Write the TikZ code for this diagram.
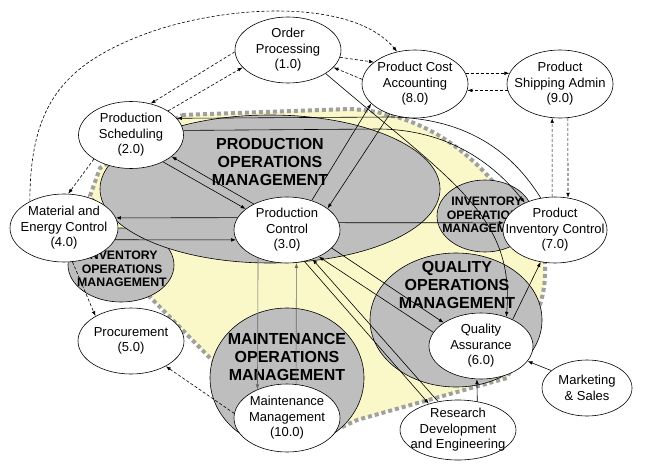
\documentclass[tikz,border=0pt]{standalone}
\usepackage{fontspec}
\setmainfont{Liberation Sans}
\usetikzlibrary{shapes.geometric,arrows.meta}
\pgfdeclarelayer{bg}
\pgfdeclarelayer{mid}
\pgfsetlayers{bg,mid,main}
\definecolor{yel}{RGB}{250,248,200}
\definecolor{grayfill}{RGB}{190,190,190}
\definecolor{dotgray}{RGB}{160,160,160}
\definecolor{linegray}{RGB}{105,105,105}
\tikzset{
 wel/.style={ellipse, draw=black, line width=0.6pt, fill=white, inner sep=0pt},
 wtxt/.style={align=center, font=\fontsize{13}{15.5}\selectfont, inner sep=0pt},
 gel/.style={ellipse, draw=black, line width=0.6pt, fill=grayfill, inner sep=0pt},
 bigtxt/.style={align=center, font=\fontsize{16}{18}\selectfont\bfseries, inner sep=0pt},
 smalltxt/.style={align=center, font=\fontsize{12.3}{13.3}\selectfont\bfseries, inner sep=0pt},
 conn/.style={line width=0.6pt, -{Latex[length=5pt,width=3.6pt]}},
 dconn/.style={conn, dash pattern=on 3pt off 2pt},
 zone/.style={fill=yel, draw=dotgray, line width=4pt, dash pattern=on 4pt off 3pt},
}
\begin{document}
\begin{tikzpicture}[x=1pt,y=-1pt]
\useasboundingbox (0,0) rectangle (652,468);
% ---------- background: zone and gray areas ----------
\begin{pgfonlayer}{bg}
\path[zone] (182,115) -- (350,109) .. controls (410,112) and (460,140) .. (500,190)
  -- (545,262) .. controls (546,285) and (542,300) .. (538,310) -- (507,378)
  -- (357,420) -- (340,428) -- (212,360) -- (150,297) -- (90,196) -- (100,168) -- cycle;
\node[gel, minimum width=106pt, minimum height=74pt] (invl) at (121,265) {};
\node[gel, minimum width=340pt, minimum height=148pt] (pom) at (270,189) {};
\node[gel, minimum width=96pt, minimum height=72pt] (invr) at (485,216) {};
\node[gel, minimum width=172pt, minimum height=134pt] (qom) at (456,320) {};
\node[gel, minimum width=154pt, minimum height=140pt] (mom) at (287,378) {};
\node[bigtxt] (pom-t) at (270,162) {PRODUCTION\\OPERATIONS\\MANAGEMENT};
\node[bigtxt] (qom-t) at (457,285) {QUALITY\\OPERATIONS\\MANAGEMENT};
\node[bigtxt] (mom-t) at (287,357) {MAINTENANCE\\OPERATIONS\\MANAGEMENT};
\node[smalltxt] (invr-t) at (487,215) {INVENTORY\\OPERATIONS\\MANAGEMENT};
\node[smalltxt] (invl-t) at (122,269) {INVENTORY\\OPERATIONS\\MANAGEMENT};
\end{pgfonlayer}
% ---------- white activity nodes ----------
\node[wel, minimum width=106pt, minimum height=66pt] (op) at (288,50) {};
\node[wtxt] (op-t) at (op) {Order\\Processing\\(1.0)};
\node[wel, minimum width=106pt, minimum height=68pt] (pca) at (415,84) {};
\node[wtxt] (pca-t) at (pca) {Product Cost\\Accounting\\(8.0)};
\node[wel, minimum width=106pt, minimum height=68pt] (psa) at (560,84) {};
\node[wtxt] (psa-t) at (psa) {Product\\Shipping Admin\\(9.0)};
\node[wel, minimum width=105pt, minimum height=67pt] (ps) at (131,135) {};
\node[wtxt] (ps-t) at (ps) {Production\\Scheduling\\(2.0)};
\node[wel, minimum width=108pt, minimum height=68pt] (me) at (64,228) {};
\node[wtxt] (me-t) at (me) {Material and\\Energy Control\\(4.0)};
\node[wel, minimum width=106pt, minimum height=66pt] (pc) at (287,230) {};
\node[wtxt] (pc-t) at (pc) {Production\\Control\\(3.0)};
\node[wel, minimum width=104pt, minimum height=66pt] (pic) at (555,230) {};
\node[wtxt] (pic-t) at (pic) {Product\\Inventory Control\\(7.0)};
\node[wel, minimum width=106pt, minimum height=66pt] (pr) at (131,341) {};
\node[wtxt] (pr-t) at (pr) {Procurement\\(5.0)};
\node[wel, minimum width=104pt, minimum height=66pt] (qa) at (481,346) {};
\node[wtxt] (qa-t) at (qa) {Quality\\Assurance\\(6.0)};
\node[wel, minimum width=106pt, minimum height=68pt] (mm) at (287,418) {};
\node[wtxt] (mm-t) at (mm) {Maintenance\\Management\\(10.0)};
\node[wel, minimum width=116pt, minimum height=60pt] (rde) at (458,430) {};
\node[wtxt] (rde-t) at (rde) {Research\\Development\\and Engineering};
\node[wel, minimum width=90pt, minimum height=56pt] (ms) at (587,388) {};
\node[wtxt] (ms-t) at (ms) {Marketing\\\& Sales};
% ---------- connectors ----------
\begin{pgfonlayer}{mid}
% dashed
\draw[dconn] (me.142) .. controls (30,110) and (60,70) .. (130,40) .. controls (210,5) and (350,-5) .. (pca.119);
\draw[dconn] (op.182) -- (ps.58);
\draw[dconn] (ps.33) -- (op.201);
\draw[dconn] (op.352) -- (pca.152);
\draw[dconn] (pca.175) -- (op.339);
\draw[dconn] (pca.12) -- (psa.168);
\draw[dconn] (psa.187) -- (pca.353);
\draw[dconn] (pic.95) -- (psa.257);
\draw[dconn] (psa.283) -- (pic.68);
\draw[dconn] (ps.213) -- (me.83);
\draw[dconn] (me.284) -- (pr.145);
\draw[dconn] (mm.175) -- (pr.324);
% solid
\draw[conn] (ps.320) -- (pc.153);
\draw[conn] (pc.142) -- (ps.332);
\draw[conn] (pc.166) -- (me.11);
\draw[conn] (me.347) -- (pc.191);
\draw[conn] (pc.50) -- (pca.204);
\draw[conn] (pca.230) -- (pc.28);
\draw[conn] (ps.5) -- (380,129) .. controls (450,130) and (495,165) .. (pic.138);
\draw[conn] (pic.114) .. controls (520,165) and (480,118) .. (390,117) -- (ps.20);
\draw[conn] (op.328) .. controls (450,180) and (515,215) .. (qa.49);
\draw[conn] (pc.8) -- (pic.172);
\draw[conn] (pc.338) -- (qa.148);
\draw[conn] (qa.164) -- (pc.320);
\draw[conn] (rde.125) -- (pc.311);
\draw[conn] (pc.299) -- (rde.138);
\draw[conn, draw=linegray] (pc.224) -- (mm.136);
\draw[conn, draw=linegray] (mm.75) -- (pc.286);
\draw[conn] (qa.40) -- (pic.246);
\draw[conn] (rde.56) -- (qa.263);
\draw[conn] (ms.154) -- (qa.342);
\end{pgfonlayer}
\end{tikzpicture}
\end{document}
